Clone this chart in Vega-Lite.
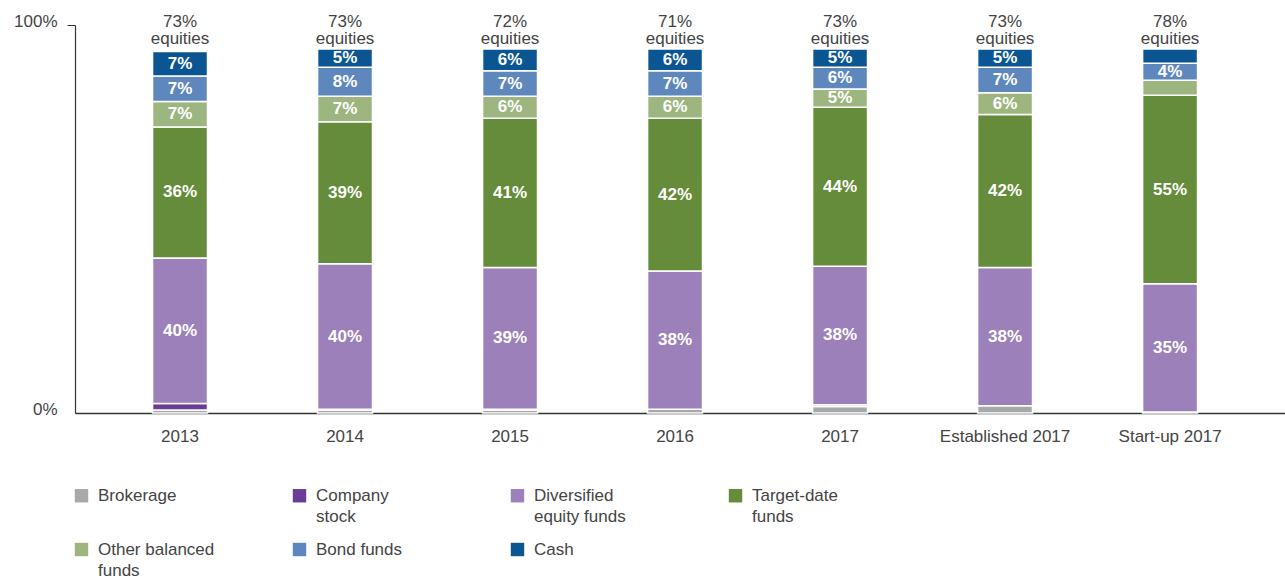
{
  "$schema": "https://vega.github.io/schema/vega-lite/v6.json",
  "autosize": "none",
  "width": 1210,
  "height": 388,
  "padding": {"left": 75, "top": 25, "right": 0, "bottom": 166},
  "background": "white",
  "config": {
    "view": {"stroke": null},
    "font": "Liberation Sans",
    "style": {"guide-label": {"lineHeight": 21}}
  },
  "datasets": {
    "seg": [
      {"cat": "2013", "type": "Brokerage", "ord": 1, "value": 0.8, "label": ""},
      {"cat": "2013", "type": "Company stock", "ord": 2, "value": 1.8, "label": ""},
      {"cat": "2013", "type": "Diversified equity funds", "ord": 3, "value": 40, "label": "40%"},
      {"cat": "2013", "type": "Target-date funds", "ord": 4, "value": 36, "label": "36%"},
      {"cat": "2013", "type": "Other balanced funds", "ord": 5, "value": 7, "label": "7%"},
      {"cat": "2013", "type": "Bond funds", "ord": 6, "value": 7, "label": "7%"},
      {"cat": "2013", "type": "Cash", "ord": 7, "value": 6.7, "label": "7%"},
      {"cat": "2014", "type": "Brokerage", "ord": 1, "value": 0.8, "label": ""},
      {"cat": "2014", "type": "Company stock", "ord": 2, "value": 0.2, "label": ""},
      {"cat": "2014", "type": "Diversified equity funds", "ord": 3, "value": 40, "label": "40%"},
      {"cat": "2014", "type": "Target-date funds", "ord": 4, "value": 39, "label": "39%"},
      {"cat": "2014", "type": "Other balanced funds", "ord": 5, "value": 7, "label": "7%"},
      {"cat": "2014", "type": "Bond funds", "ord": 6, "value": 8, "label": "8%"},
      {"cat": "2014", "type": "Cash", "ord": 7, "value": 5, "label": "5%"},
      {"cat": "2015", "type": "Brokerage", "ord": 1, "value": 0.8, "label": ""},
      {"cat": "2015", "type": "Company stock", "ord": 2, "value": 0.2, "label": ""},
      {"cat": "2015", "type": "Diversified equity funds", "ord": 3, "value": 39, "label": "39%"},
      {"cat": "2015", "type": "Target-date funds", "ord": 4, "value": 41, "label": "41%"},
      {"cat": "2015", "type": "Other balanced funds", "ord": 5, "value": 6, "label": "6%"},
      {"cat": "2015", "type": "Bond funds", "ord": 6, "value": 7, "label": "7%"},
      {"cat": "2015", "type": "Cash", "ord": 7, "value": 6, "label": "6%"},
      {"cat": "2016", "type": "Brokerage", "ord": 1, "value": 1, "label": ""},
      {"cat": "2016", "type": "Diversified equity funds", "ord": 3, "value": 38, "label": "38%"},
      {"cat": "2016", "type": "Target-date funds", "ord": 4, "value": 42, "label": "42%"},
      {"cat": "2016", "type": "Other balanced funds", "ord": 5, "value": 6, "label": "6%"},
      {"cat": "2016", "type": "Bond funds", "ord": 6, "value": 7, "label": "7%"},
      {"cat": "2016", "type": "Cash", "ord": 7, "value": 6, "label": "6%"},
      {"cat": "2017", "type": "Brokerage", "ord": 1, "value": 1.8, "label": ""},
      {"cat": "2017", "type": "Company stock", "ord": 2, "value": 0.5, "label": ""},
      {"cat": "2017", "type": "Diversified equity funds", "ord": 3, "value": 38, "label": "38%"},
      {"cat": "2017", "type": "Target-date funds", "ord": 4, "value": 43.7, "label": "44%"},
      {"cat": "2017", "type": "Other balanced funds", "ord": 5, "value": 5, "label": "5%"},
      {"cat": "2017", "type": "Bond funds", "ord": 6, "value": 6, "label": "6%"},
      {"cat": "2017", "type": "Cash", "ord": 7, "value": 5, "label": "5%"},
      {"cat": "Established 2017", "type": "Brokerage", "ord": 1, "value": 2, "label": ""},
      {"cat": "Established 2017", "type": "Diversified equity funds", "ord": 3, "value": 38, "label": "38%"},
      {"cat": "Established 2017", "type": "Target-date funds", "ord": 4, "value": 42, "label": "42%"},
      {"cat": "Established 2017", "type": "Other balanced funds", "ord": 5, "value": 6, "label": "6%"},
      {"cat": "Established 2017", "type": "Bond funds", "ord": 6, "value": 7, "label": "7%"},
      {"cat": "Established 2017", "type": "Cash", "ord": 7, "value": 5, "label": "5%"},
      {"cat": "Start-up 2017", "type": "Brokerage", "ord": 1, "value": 0.3, "label": ""},
      {"cat": "Start-up 2017", "type": "Diversified equity funds", "ord": 3, "value": 35.2, "label": "35%"},
      {"cat": "Start-up 2017", "type": "Target-date funds", "ord": 4, "value": 51.8, "label": "55%"},
      {"cat": "Start-up 2017", "type": "Other balanced funds", "ord": 5, "value": 4.1, "label": ""},
      {"cat": "Start-up 2017", "type": "Bond funds", "ord": 6, "value": 4.7, "label": "4%"},
      {"cat": "Start-up 2017", "type": "Cash", "ord": 7, "value": 3.9, "label": ""}
    ],
    "tops": [
      {"cat": "2013", "eq": "73%"},
      {"cat": "2014", "eq": "73%"},
      {"cat": "2015", "eq": "72%"},
      {"cat": "2016", "eq": "71%"},
      {"cat": "2017", "eq": "73%"},
      {"cat": "Established 2017", "eq": "73%"},
      {"cat": "Start-up 2017", "eq": "78%"}
    ]
  },
  "layer": [
    {
      "data": {"name": "seg"},
      "mark": {"type": "bar", "stroke": "white", "strokeWidth": 1.5},
      "encoding": {
        "x": {
          "field": "cat", "type": "nominal",
          "sort": ["2013", "2014", "2015", "2016", "2017", "Established 2017", "Start-up 2017"],
          "scale": {"paddingInner": 0.667, "paddingOuter": 0.5, "align": 0.47},
          "axis": {
            "title": null, "labelAngle": 0, "ticks": false, "domainColor": "#333", "domainWidth": 1.5,
            "labelFontSize": 17, "labelColor": "#444", "labelPadding": 15, "labelFont": "Liberation Sans"
          }
        },
        "y": {
          "field": "value", "type": "quantitative", "stack": "zero",
          "scale": {"domain": [0, 106.6], "nice": false, "zero": true},
          "axis": {
            "title": null, "values": [0, 106.6], "grid": false, "domainColor": "#333", "domainWidth": 1.2,
            "tickSize": 8, "tickColor": {"condition": {"test": "datum.value == 0", "value": "transparent"}, "value": "#333"},
            "labelExpr": "datum.value == 0 ? '0%' : '100%'", "labelFontSize": 17, "labelColor": "#444",
            "labelPadding": 10, "labelOffset": -4, "labelFont": "Liberation Sans"
          }
        },
        "color": {
          "field": "type", "type": "nominal",
          "scale": {
            "domain": ["Brokerage", "Company stock", "Diversified equity funds", "Target-date funds", "Other balanced funds", "Bond funds", "Cash"],
            "range": ["#a7a8aa", "#6b3c96", "#9c80ba", "#648c3a", "#9db67f", "#5e88bd", "#0b5692"]
          },
          "legend": {
            "title": null, "orient": "none", "legendX": -2, "legendY": 462, "direction": "horizontal",
            "columns": 4, "gridAlign": "all", "columnPadding": 76, "rowPadding": 15, "padding": 0,
            "symbolType": "square", "symbolSize": 180, "symbolStrokeWidth": 0, "symbolOpacity": 1,
            "labelFontSize": 17, "labelColor": "#444", "labelOffset": 8, "labelLimit": 300, "labelFont": "Liberation Sans",
            "labelExpr": "datum.label == 'Company stock' ? ['Company', 'stock'] : datum.label == 'Diversified equity funds' ? ['Diversified', 'equity funds'] : datum.label == 'Target-date funds' ? ['Target-date', 'funds'] : datum.label == 'Other balanced funds' ? ['Other balanced', 'funds'] : [datum.label, '']"
          }
        },
        "order": {"field": "ord", "type": "quantitative"}
      }
    },
    {
      "data": {"name": "seg"},
      "mark": {"type": "text", "color": "white", "fontWeight": "bold", "fontSize": 17, "font": "Liberation Sans", "baseline": "middle"},
      "encoding": {
        "x": {"field": "cat", "type": "nominal", "sort": ["2013", "2014", "2015", "2016", "2017", "Established 2017", "Start-up 2017"]},
        "y": {"field": "value", "type": "quantitative", "stack": "zero", "bandPosition": 0.5},
        "detail": {"field": "type", "type": "nominal"},
        "order": {"field": "ord", "type": "quantitative"},
        "text": {"field": "label", "type": "nominal"}
      }
    },
    {
      "data": {"name": "tops"},
      "mark": {"type": "text", "color": "#444", "fontSize": 17, "font": "Liberation Sans", "baseline": "middle", "dy": -27},
      "encoding": {
        "x": {"field": "cat", "type": "nominal", "sort": ["2013", "2014", "2015", "2016", "2017", "Established 2017", "Start-up 2017"]},
        "y": {"datum": 100, "type": "quantitative"},
        "text": {"field": "eq", "type": "nominal"}
      }
    },
    {
      "data": {"name": "tops"},
      "mark": {"type": "text", "color": "#444", "fontSize": 17, "font": "Liberation Sans", "baseline": "middle", "dy": -10, "text": "equities"},
      "encoding": {
        "x": {"field": "cat", "type": "nominal", "sort": ["2013", "2014", "2015", "2016", "2017", "Established 2017", "Start-up 2017"]},
        "y": {"datum": 100, "type": "quantitative"}
      }
    }
  ]
}
